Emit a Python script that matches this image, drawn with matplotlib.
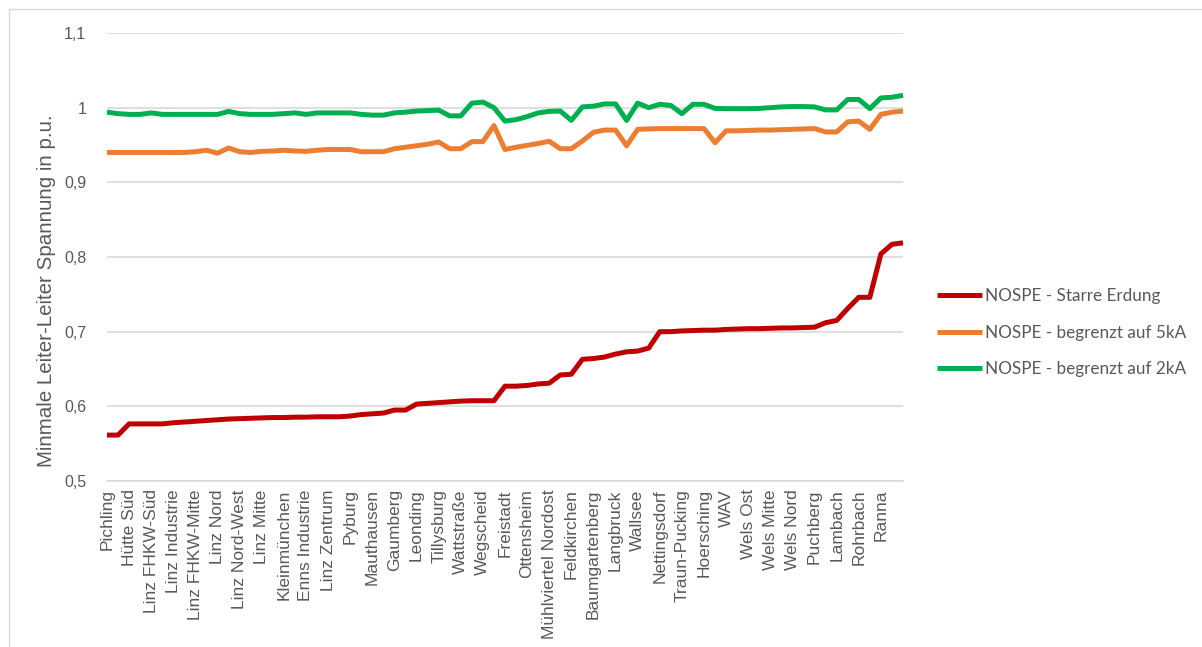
import numpy as np
import matplotlib.pyplot as plt
from matplotlib.patches import Rectangle

# ---------- Data ----------
# 73 substations along the x axis, only every second one is labelled
TICK_LABELS = [
    "Pichling", "Hütte Süd", "Linz FHKW-Süd", "Linz Industrie", "Linz FHKW-Mitte",
    "Linz Nord", "Linz Nord-West", "Linz Mitte", "Kleinmünchen", "Enns Industrie",
    "Linz Zentrum", "Pyburg", "Mauthausen", "Gaumberg", "Leonding", "Tillysburg",
    "Wattstraße", "Wegscheid", "Freistadt", "Ottensheim", "Mühlviertel Nordost",
    "Feldkirchen", "Baumgartenberg", "Langbruck", "Wallsee", "Nettingsdorf",
    "Traun-Pucking", "Hoersching", "WAV", "Wels Ost", "Wels Mitte", "Wels Nord",
    "Puchberg", "Lambach", "Rohrbach", "Ranna",
]

starre_erdung = [
    0.5615, 0.5615, 0.5765, 0.5765, 0.5765, 0.5765, 0.578, 0.579, 0.580, 0.581,
    0.582, 0.583, 0.5835, 0.584, 0.5845, 0.585, 0.585, 0.5855, 0.5855, 0.586,
    0.586, 0.586, 0.587, 0.589, 0.590, 0.591, 0.595, 0.595, 0.603, 0.604,
    0.605, 0.606, 0.607, 0.6075, 0.6075, 0.6075, 0.627, 0.627, 0.628, 0.630,
    0.631, 0.642, 0.643, 0.663, 0.664, 0.666, 0.670, 0.673, 0.674, 0.678,
    0.700, 0.700, 0.701, 0.7015, 0.702, 0.702, 0.703, 0.7035, 0.704, 0.704,
    0.7045, 0.705, 0.705, 0.7055, 0.706, 0.712, 0.715, 0.731, 0.746, 0.746,
    0.804, 0.817, 0.819,
]

begrenzt_5ka = [
    0.940, 0.940, 0.940, 0.940, 0.940, 0.940, 0.940, 0.940, 0.941, 0.943,
    0.939, 0.946, 0.941, 0.940, 0.9415, 0.942, 0.943, 0.942, 0.9415, 0.943,
    0.944, 0.944, 0.944, 0.941, 0.941, 0.941, 0.945, 0.947, 0.949, 0.951,
    0.954, 0.945, 0.945, 0.9545, 0.9545, 0.976, 0.944, 0.947, 0.9495, 0.952,
    0.955, 0.945, 0.945, 0.9553, 0.967, 0.970, 0.970, 0.949, 0.971, 0.9715,
    0.972, 0.972, 0.972, 0.972, 0.972, 0.953, 0.969, 0.969, 0.9695, 0.970,
    0.970, 0.9705, 0.971, 0.9715, 0.972, 0.9675, 0.9675, 0.981, 0.982, 0.971,
    0.991, 0.994, 0.9955,
]

begrenzt_2ka = [
    0.994, 0.992, 0.991, 0.991, 0.993, 0.991, 0.991, 0.991, 0.991, 0.991,
    0.991, 0.995, 0.992, 0.991, 0.991, 0.991, 0.992, 0.993, 0.991, 0.993,
    0.993, 0.993, 0.993, 0.991, 0.990, 0.990, 0.993, 0.994, 0.9955, 0.996,
    0.9967, 0.989, 0.989, 1.006, 1.0075, 1.000, 0.982, 0.984, 0.988, 0.993,
    0.995, 0.9955, 0.983, 1.001, 1.002, 1.005, 1.005, 0.983, 1.006, 1.000,
    1.0045, 1.003, 0.992, 1.0045, 1.0045, 0.999, 0.9987, 0.9987, 0.9987, 0.999,
    1.000, 1.001, 1.0015, 1.0015, 1.001, 0.997, 0.997, 1.011, 1.011, 0.9987,
    1.013, 1.014, 1.0165,
]

SERIES = [
    ("NOSPE - Starre Erdung", starre_erdung, "#C00000"),
    ("NOSPE - begrenzt auf 5kA", begrenzt_5ka, "#ED7D31"),
    ("NOSPE - begrenzt auf 2kA", begrenzt_2ka, "#00B050"),
]

TEXT_GREY = "#595959"
GRID_GREY = "#D9D9D9"

plt.rcParams["font.family"] = ["Liberation Sans", "DejaVu Sans"]

fig = plt.figure(figsize=(12.02, 6.47), dpi=100)
ax = fig.add_axes([107 / 1202, 1 - 481 / 647, (903 - 107) / 1202, (481 - 33) / 647])

x = np.arange(len(starre_erdung))
handles = []
for label, vals, color in SERIES:
    (h,) = ax.plot(x, vals, color=color, lw=3.6, label=label,
                   solid_joinstyle="round", solid_capstyle="butt", clip_on=False, zorder=3)
    handles.append(h)

# axes styling, Excel-like
ax.set_xlim(0, len(x) - 1)
ax.set_ylim(0.5, 1.1)
yticks = np.arange(0.5, 1.1001, 0.1)
ax.set_yticks(yticks)
ax.set_yticklabels([f"{v:.1f}".rstrip("0").rstrip(".").replace(".", ",") for v in yticks])
ax.set_xticks(x[0:2 * len(TICK_LABELS):2])
ax.set_xticklabels(TICK_LABELS, rotation=90, ha="center", va="top")
ax.tick_params(axis="both", length=0, colors=TEXT_GREY)
ax.tick_params(axis="y", labelsize=11.5, pad=15)
ax.tick_params(axis="x", labelsize=12.5, pad=6)
ax.grid(axis="y", color=GRID_GREY, lw=1.2)
ax.set_axisbelow(True)
for side in ("top", "right", "left"):
    ax.spines[side].set_visible(False)
ax.spines["bottom"].set_color(GRID_GREY)
ax.spines["bottom"].set_linewidth(1.2)

fig.text(47 / 1202, 1 - 291 / 647, "Minmale Leiter-Leiter Spannung in p.u.",
         rotation=90, ha="center", va="center", fontsize=14.8, color=TEXT_GREY)

leg = fig.legend(handles=handles, loc="upper left",
                 bbox_to_anchor=(922 / 1202, 1 - 273 / 647),
                 frameon=False, handlelength=2.6, handletextpad=0.2,
                 labelspacing=1.2, prop={"family": ["Lato", "DejaVu Sans"], "size": 12.3})
for t in leg.get_texts():
    t.set_color(TEXT_GREY)

# thin frame around the chart area
fig.patches.append(Rectangle((9 / 1202, -0.05), 1.2, 1.05 - 9 / 647, transform=fig.transFigure,
                             fill=False, edgecolor=GRID_GREY, lw=1.0))

fig.savefig("out.png", dpi=100)
